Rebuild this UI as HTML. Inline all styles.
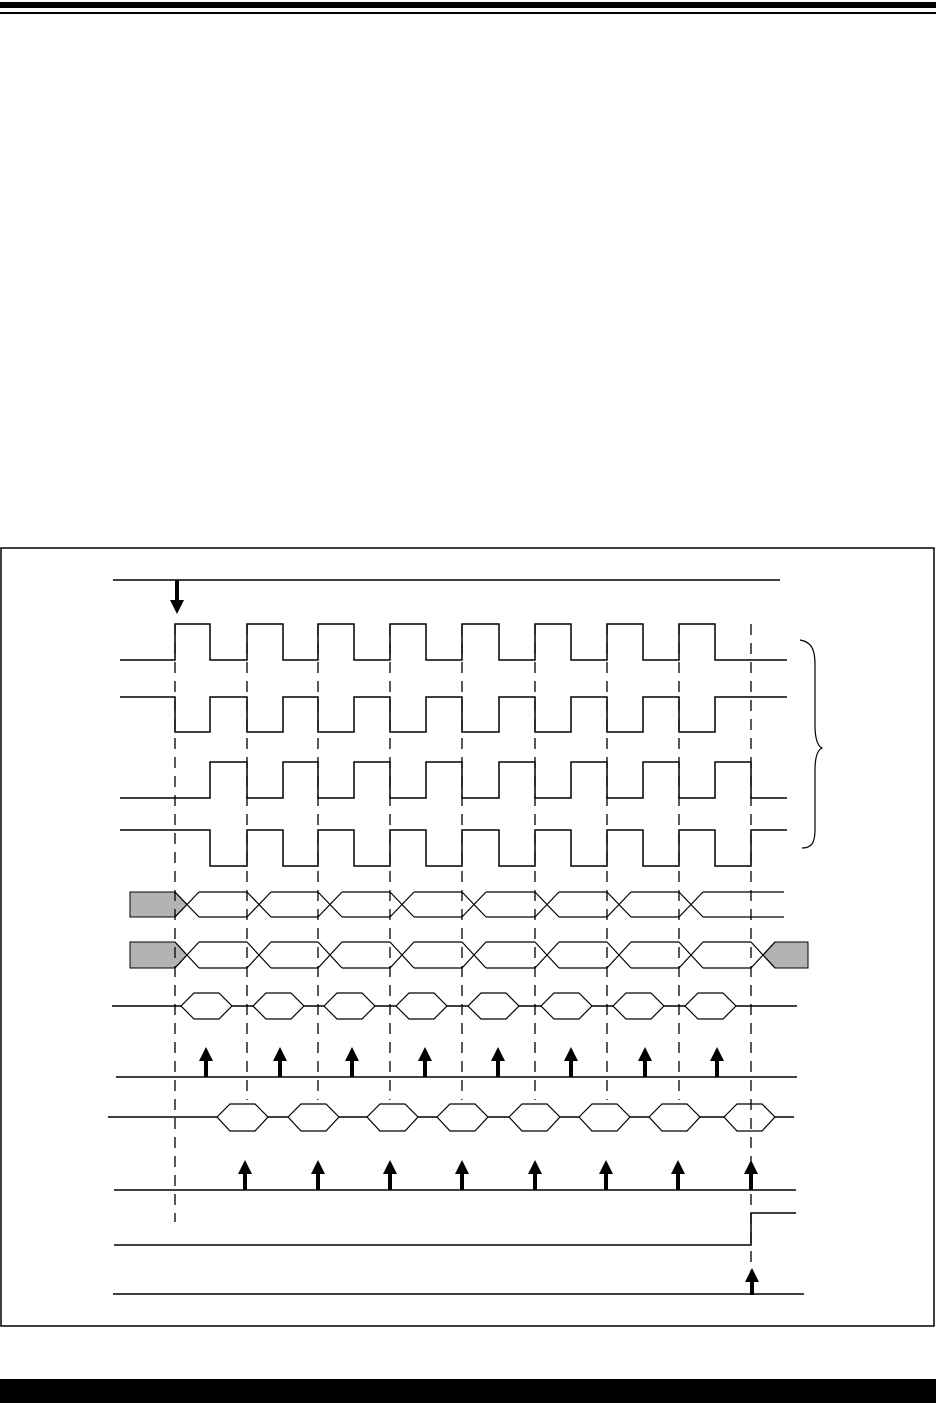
<!DOCTYPE html>
<html><head><style>html,body{margin:0;padding:0;background:#fff;}svg{display:block}</style></head>
<body>
<svg width="936" height="1419" viewBox="0 0 936 1419" xmlns="http://www.w3.org/2000/svg">
<rect x="0" y="2" width="936" height="6" fill="#000"/>
<rect x="0" y="12" width="936" height="2" fill="#000"/>
<rect x="1" y="548" width="933" height="778" fill="none" stroke="#000" stroke-width="1.5"/>
<rect x="0" y="1379" width="936" height="24" fill="#000"/>

<g stroke="#000" stroke-width="1.5" fill="none">
<path d="M113 580H780"/>
<path d="M120 660H175V624H210V660H247V624H283V660H318V624H354V660H390V624H426V660H462V624H499V660H535V624H571V660H607V624H643V660H679V624H715V660H787"/>
<path d="M120 697H175V732H210V697H247V732H283V697H318V732H354V697H390V732H426V697H462V732H499V697H535V732H571V697H607V732H643V697H679V732H715V697H787"/>
<path d="M120 798H210V762H247V798H283V762H318V798H354V762H390V798H426V762H462V798H499V762H535V798H571V762H607V798H643V762H679V798H715V762H751V798H787"/>
<path d="M120 830H210V866H247V830H283V866H318V830H354V866H390V830H426V866H462V830H499V866H535V830H571V866H607V830H643V866H679V830H715V866H751V830H787"/>
</g>
<path d="M177 580V601" stroke="#000" stroke-width="4"/>
<polygon points="170,600 184,600 177,614" fill="#000"/>

<path d="M800 640 C812 642 815 650 815 665 L815 725 C815 740 818 746 822 748 C818 750 815 756 815 770 L815 830 C815 842 812 848 802 848" fill="none" stroke="#000" stroke-width="1.2"/>

<polygon points="130,892 175,892 187,904.5 175,917 130,917" fill="#b3b3b3" stroke="#000" stroke-width="1"/>
<g stroke="#000" stroke-width="1.2" fill="none">
<path d="M175 892L199 917M175 917L199 892M247 892L271 917M247 917L271 892M318 892L342 917M318 917L342 892M390 892L414 917M390 917L414 892M462 892L486 917M462 917L486 892M535 892L559 917M535 917L559 892M607 892L631 917M607 917L631 892M679 892L703 917M679 917L703 892"/>
<path d="M199 892H247M271 892H318M342 892H390M414 892H462M486 892H535M559 892H607M631 892H679M703 892H784"/>
<path d="M199 917H247M271 917H318M342 917H390M414 917H462M486 917H535M559 917H607M631 917H679M703 917H784"/>
</g>
<polygon points="130,942 175,942 187,955 175,968 130,968" fill="#b3b3b3" stroke="#000" stroke-width="1"/>
<polygon points="775,942 808,942 808,968 775,968 763,955" fill="#b3b3b3" stroke="#000" stroke-width="1"/>
<g stroke="#000" stroke-width="1.2" fill="none">
<path d="M175 942L199 968M175 968L199 942M247 942L271 968M247 968L271 942M318 942L342 968M318 968L342 942M390 942L414 968M390 968L414 942M462 942L486 968M462 968L486 942M535 942L559 968M535 968L559 942M607 942L631 968M607 968L631 942M679 942L703 968M679 968L703 942M751 942L775 968M751 968L775 942"/>
<path d="M199 942H247M271 942H318M342 942H390M414 942H462M486 942H535M559 942H607M631 942H679M703 942H751"/>
<path d="M199 968H247M271 968H318M342 968H390M414 968H462M486 968H535M559 968H607M631 968H679M703 968H751"/>
</g>

<path d="M112 1006H797" stroke="#000" stroke-width="1.5"/>
<g stroke="#000" stroke-width="1.2" fill="#fff">
<polygon points="181,1006 194,993 219,993 232,1006 219,1019 194,1019"/>
<polygon points="253,1006 266,993 291,993 304,1006 291,1019 266,1019"/>
<polygon points="324,1006 337,993 362,993 375,1006 362,1019 337,1019"/>
<polygon points="396,1006 409,993 434,993 447,1006 434,1019 409,1019"/>
<polygon points="468,1006 481,993 506,993 519,1006 506,1019 481,1019"/>
<polygon points="541,1006 554,993 579,993 592,1006 579,1019 554,1019"/>
<polygon points="613,1006 626,993 651,993 664,1006 651,1019 626,1019"/>
<polygon points="685,1006 698,993 723,993 736,1006 723,1019 698,1019"/>
</g>

<path d="M116 1077H797" stroke="#000" stroke-width="1.5"/>
<g fill="#000">
<rect x="204" y="1058" width="4" height="19"/><polygon points="199,1061 213,1061 206,1047"/>
<rect x="278" y="1058" width="4" height="19"/><polygon points="273,1061 287,1061 280,1047"/>
<rect x="350" y="1058" width="4" height="19"/><polygon points="345,1061 359,1061 352,1047"/>
<rect x="423" y="1058" width="4" height="19"/><polygon points="418,1061 432,1061 425,1047"/>
<rect x="496" y="1058" width="4" height="19"/><polygon points="491,1061 505,1061 498,1047"/>
<rect x="569" y="1058" width="4" height="19"/><polygon points="564,1061 578,1061 571,1047"/>
<rect x="643" y="1058" width="4" height="19"/><polygon points="638,1061 652,1061 645,1047"/>
<rect x="715" y="1058" width="4" height="19"/><polygon points="710,1061 724,1061 717,1047"/>
</g>

<path d="M108 1117H794" stroke="#000" stroke-width="1.5"/>
<g stroke="#000" stroke-width="1.2" fill="#fff">
<polygon points="217,1117 230,1104 255,1104 268,1117 255,1131 230,1131"/>
<polygon points="288,1117 301,1104 326,1104 339,1117 326,1131 301,1131"/>
<polygon points="367,1117 380,1104 405,1104 418,1117 405,1131 380,1131"/>
<polygon points="437,1117 450,1104 475,1104 488,1117 475,1131 450,1131"/>
<polygon points="509,1117 522,1104 547,1104 560,1117 547,1131 522,1131"/>
<polygon points="579,1117 592,1104 617,1104 630,1117 617,1131 592,1131"/>
<polygon points="649,1117 662,1104 687,1104 700,1117 687,1131 662,1131"/>
<polygon points="724,1117 737,1104 762,1104 775,1117 762,1131 737,1131"/>
</g>

<path d="M114 1190H796" stroke="#000" stroke-width="1.5"/>
<g fill="#000">
<rect x="243" y="1171" width="4" height="19"/><polygon points="238,1174 252,1174 245,1160"/>
<rect x="316" y="1171" width="4" height="19"/><polygon points="311,1174 325,1174 318,1160"/>
<rect x="388" y="1171" width="4" height="19"/><polygon points="383,1174 397,1174 390,1160"/>
<rect x="460" y="1171" width="4" height="19"/><polygon points="455,1174 469,1174 462,1160"/>
<rect x="533" y="1171" width="4" height="19"/><polygon points="528,1174 542,1174 535,1160"/>
<rect x="604" y="1171" width="4" height="19"/><polygon points="599,1174 613,1174 606,1160"/>
<rect x="676" y="1171" width="4" height="19"/><polygon points="671,1174 685,1174 678,1160"/>
<rect x="749" y="1171" width="4" height="19"/><polygon points="744,1174 758,1174 751,1160"/>
</g>

<path d="M114 1245H751V1213H796" fill="none" stroke="#000" stroke-width="1.5"/>

<path d="M113 1294H804" stroke="#000" stroke-width="1.5"/>
<rect x="750" y="1279" width="4" height="16" fill="#000"/>
<polygon points="745,1282 759,1282 752,1268" fill="#000"/>

<g stroke="#000" stroke-width="1.3" stroke-dasharray="11 8" fill="none">
<path d="M175 624V1222"/>
<path d="M247 624V1100M318 624V1100M390 624V1100M462 624V1100M535 624V1100M607 624V1100M679 624V1100"/>
<path d="M751 624V1295"/>
</g>
</svg>
</body></html>
